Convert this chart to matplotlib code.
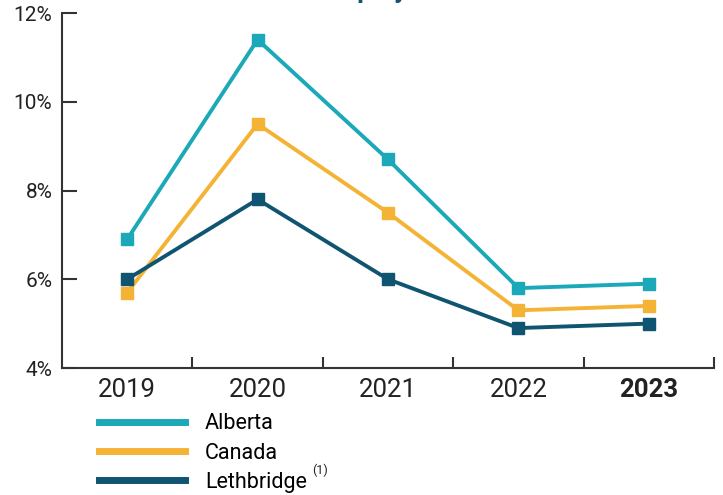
import matplotlib.pyplot as plt
import numpy as np

years = ["2019", "2020", "2021", "2022", "2023"]
alberta = [6.9, 11.4, 8.7, 5.8, 5.9]
canada = [5.7, 9.5, 7.5, 5.3, 5.4]
lethbridge = [6.0, 7.8, 6.0, 4.9, 5.0]

plt.rcParams['font.family'] = ['Roboto', 'DejaVu Sans']

fig = plt.figure(figsize=(7.23, 4.95), dpi=100)
ax = fig.add_axes([62 / 723, 1 - 368 / 495, 652 / 723, 355 / 495])

x = np.arange(len(years))
series = [
    (alberta, "#1BA8B8", "Alberta"),
    (canada, "#F5B335", "Canada"),
    (lethbridge, "#0F5470", "Lethbridge"),
]
for vals, col, lab in series:
    ax.plot(x, vals, color=col, lw=2.8, marker="s", ms=8.5, label=lab)

ax.set_xlim(-0.5, 4.5)
ax.set_ylim(4, 12)
ax.set_yticks([4, 6, 8, 10, 12])
ax.set_yticklabels(["4%", "6%", "8%", "10%", "12%"])
ax.set_xticks(x)
ax.set_xticklabels(years)
ax.get_xticklabels()[-1].set_fontweight("bold")
ax.set_xticks(np.arange(0.5, 5, 1), minor=True)

axis_col = "#333333"
for s in ["top", "right"]:
    ax.spines[s].set_visible(False)
for s in ["left", "bottom"]:
    ax.spines[s].set_color(axis_col)
    ax.spines[s].set_linewidth(1.5)

ax.tick_params(axis="y", direction="in", length=11, width=1.5, color=axis_col,
               labelsize=15, labelcolor="#222222", pad=7)
ax.tick_params(axis="x", which="major", length=0, labelsize=18.5,
               labelcolor="#222222", pad=7)
ax.tick_params(axis="x", which="minor", direction="in", length=8, width=1.5,
               color=axis_col)

leg = fig.legend(loc="upper left", bbox_to_anchor=(80 / 723, 1 - 394 / 495),
                 frameon=False, fontsize=15.5, handlelength=4.0,
                 handletextpad=0.9, labelspacing=0.38)
for h in leg.get_lines():
    h.set_marker("")
    h.set_linewidth(5)

# footnote marker after the Lethbridge label
fig.canvas.draw()
ax.annotate("(1)", xy=(1, 0.75), xycoords=leg.get_texts()[2],
            xytext=(4, 0), textcoords="offset points", fontsize=9,
            color="#222222", va="bottom", ha="left")

fig.text(0.565, 1.0 + 2 / 495, "Unemployment Rate", ha="center", va="baseline",
         fontsize=19, fontweight="bold", color="#0F5470")

fig.savefig("out.png", dpi=100)
